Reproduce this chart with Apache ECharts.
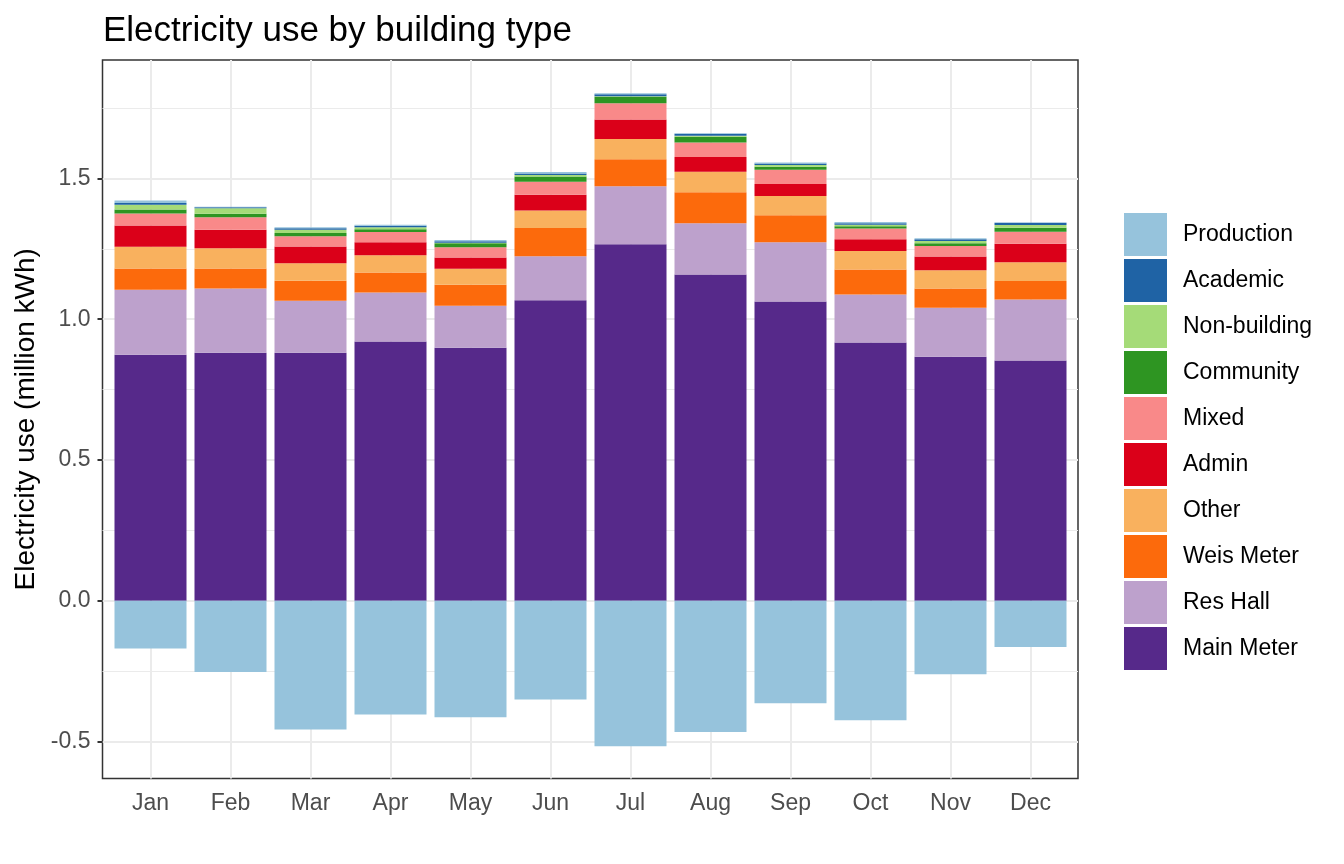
<!DOCTYPE html>
<html>
<head>
<meta charset="utf-8">
<script src="https://cdn.jsdelivr.net/npm/echarts@6/dist/echarts.min.js"></script>
<style>
html,body{margin:0;padding:0;background:#fff;}
#chart{width:1344px;height:864px;}
</style>
</head>
<body>
<div id="chart"></div>
<script>
// ---- data (million kWh) ----
const months = ['Jan','Feb','Mar','Apr','May','Jun','Jul','Aug','Sep','Oct','Nov','Dec'];
const mainMeter   = [0.874,0.881,0.881,0.921,0.899,1.067,1.266,1.159,1.063,0.917,0.867,0.853];
const resHall     = [0.231,0.228,0.185,0.174,0.149,0.157,0.206,0.182,0.210,0.171,0.174,0.217];
const weisMeter   = [0.075,0.071,0.071,0.071,0.074,0.100,0.096,0.110,0.096,0.089,0.068,0.066];
const other       = [0.077,0.072,0.062,0.061,0.057,0.062,0.072,0.073,0.069,0.065,0.065,0.066];
const admin       = [0.076,0.066,0.059,0.046,0.040,0.056,0.070,0.052,0.042,0.042,0.049,0.066];
const mixed       = [0.043,0.044,0.037,0.037,0.037,0.046,0.057,0.052,0.051,0.038,0.037,0.043];
const community   = [0.014,0.013,0.011,0.010,0.014,0.019,0.023,0.020,0.011,0.008,0.010,0.014];
const nonBuilding = [0.017,0.019,0.012,0.007,0.002,0.005,0.002,0.004,0.006,0.006,0.008,0.010];
const academic    = [0.006,0.004,0.005,0.005,0.005,0.006,0.007,0.007,0.005,0.005,0.006,0.008];
const productionPos = [0.009,0.002,0.004,0.004,0.004,0.005,0.004,0.002,0.004,0.004,0.004,0.001];
const productionNeg = [-0.170,-0.254,-0.458,-0.405,-0.414,-0.351,-0.517,-0.467,-0.365,-0.425,-0.262,-0.165];

const yMajorTicks = [-0.5, 0, 0.5, 1.0, 1.5];
const yMinorTicks = [-0.25, 0.25, 0.75, 1.25, 1.75];
const legendOrder = ['Production','Academic','Non-building','Community','Mixed','Admin','Other','Weis Meter','Res Hall','Main Meter'];

// ---- styles ----
const colors = {
  'Production':'#96c3dc','Academic':'#1f63a5','Non-building':'#a5db78','Community':'#2e9522',
  'Mixed':'#f98989','Admin':'#db0019','Other':'#f9b15e','Weis Meter':'#fc6a0c',
  'Res Hall':'#bda1cc','Main Meter':'#56298a'
};
const FONT = '"Liberation Sans", Arial, Helvetica, sans-serif';
const Y_MIN = -0.632, Y_MAX = 1.921;

const stackDefs = [
  ['Main Meter', mainMeter], ['Res Hall', resHall], ['Weis Meter', weisMeter], ['Other', other],
  ['Admin', admin], ['Mixed', mixed], ['Community', community], ['Non-building', nonBuilding],
  ['Academic', academic], ['Production', productionPos], ['Production', productionNeg]
];

const barSeries = stackDefs.map(([name, vals]) => ({
  name: name, type: 'bar', stack: 'total', xAxisIndex: 1, yAxisIndex: 1,
  barCategoryGap: '10%', itemStyle: { color: colors[name] }, z: 3,
  data: vals, silent: true
}));

const gridSeries = [
  { type: 'line', xAxisIndex: 0, yAxisIndex: 0, data: [], z: 0, silent: true,
    markLine: { silent: true, symbol: 'none', z: 0, label: { show: false },
      data: yMajorTicks.map(v => ({ yAxis: v, lineStyle: { color: '#ebebeb', width: 2, type: 'solid' } }))
        .concat(yMinorTicks.map(v => ({ yAxis: v, lineStyle: { color: '#ebebeb', width: 1, type: 'solid' } }))) } },
  { type: 'line', xAxisIndex: 1, yAxisIndex: 1, data: [], z: 0, silent: true,
    markLine: { silent: true, symbol: 'none', z: 0, label: { show: false },
      data: months.map(m => ({ xAxis: m, lineStyle: { color: '#ebebeb', width: 2, type: 'solid' } })) } }
];

const option = {
  animation: false,
  backgroundColor: '#ffffff',
  textStyle: { fontFamily: FONT },
  title: {
    text: 'Electricity use by building type', left: 98, top: 9,
    textStyle: { fontFamily: FONT, fontSize: 35, fontWeight: 'normal', color: '#000' }
  },
  legend: {
    data: legendOrder, orient: 'vertical', left: 1119, top: 208,
    itemWidth: 43, itemHeight: 43, itemGap: 3, icon: 'rect',
    textStyle: { fontFamily: FONT, fontSize: 23, color: '#000', padding: [0, 0, 0, 11] },
    selectedMode: false
  },
  grid: [
    { left: 102.5, top: 60, width: 975.5, height: 718.5, show: true, borderColor: '#333333', borderWidth: 1.5, backgroundColor: 'transparent' },
    { left: 110.5, top: 60, width: 960, height: 718.5 }
  ],
  xAxis: [
    { type: 'value', gridIndex: 0, min: 0, max: 1, show: false },
    { type: 'category', gridIndex: 1, data: months,
      axisLine: { show: false },
      axisTick: { show: true, alignWithLabel: true, length: 5, lineStyle: { color: '#333', width: 2 } },
      axisLabel: { fontFamily: FONT, fontSize: 23, color: '#4d4d4d', margin: 14 },
      splitLine: { show: false } }
  ],
  yAxis: [
    { type: 'value', gridIndex: 0, min: Y_MIN, max: Y_MAX,
      name: 'Electricity use (million kWh)', nameLocation: 'middle', nameRotate: 90, nameGap: 60,
      nameTextStyle: { fontFamily: FONT, fontSize: 28, color: '#000' },
      axisLine: { show: false },
      axisTick: { show: true, length: 5, customValues: yMajorTicks, lineStyle: { color: '#333', width: 2 } },
      axisLabel: { fontFamily: FONT, fontSize: 23, color: '#4d4d4d', margin: 12, customValues: yMajorTicks,
        formatter: v => Number(v).toFixed(1) },
      splitLine: { show: false } },
    { type: 'value', gridIndex: 1, min: Y_MIN, max: Y_MAX, show: false, splitLine: { show: false } }
  ],
  series: gridSeries.concat(barSeries)
};

const chart = echarts.init(document.getElementById('chart'), null, { renderer: 'canvas' });
chart.setOption(option);
</script>
</body>
</html>
